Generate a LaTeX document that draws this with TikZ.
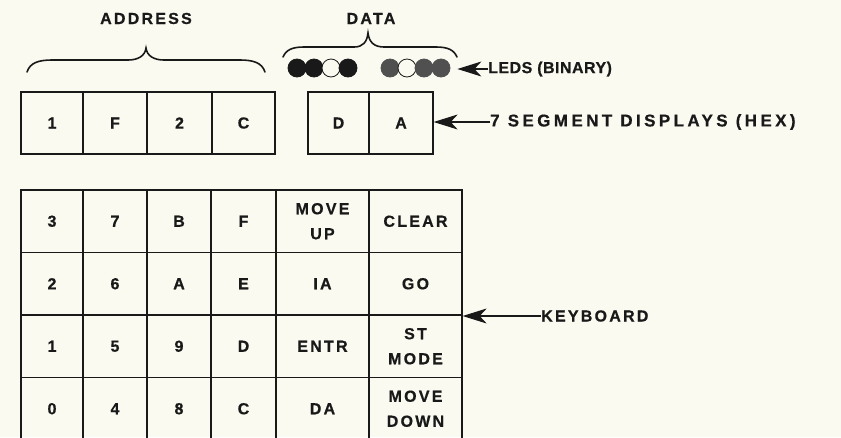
\documentclass[tikz,border=0pt]{standalone}
\usepackage{fontspec}
\setmainfont{Liberation Sans}[BoldFont={Liberation Sans Bold}, LetterSpace=14, BoldFeatures={FakeBold=0.6}]
\newfontfamily\ledsfont{Liberation Sans Bold}[LetterSpace=3, FakeBold=0.6]
\newfontfamily\segfont{Liberation Sans Bold}[LetterSpace=20, FakeBold=0.6]
\usetikzlibrary{arrows.meta}
\definecolor{paper}{RGB}{251,250,240}
\definecolor{ink}{RGB}{25,25,25}
\definecolor{ledgray}{RGB}{80,80,80}
\begin{document}
\begin{tikzpicture}[x=1pt,y=-1pt,
  lbl/.style={font=\bfseries\fontsize{16}{25}\selectfont, text=ink, inner sep=0pt},
  cell/.style={draw=ink, line width=1.3pt, lbl, align=center, inner sep=0pt},
  led/.style={circle, draw=ink, line width=0.8pt, minimum size=18pt, inner sep=0pt},
  ledon/.style={led, fill=ink},
  ledon2/.style={led, fill=ledgray, draw=ledgray},
  ledoff/.style={led, fill=paper},
  pointer/.style={draw=ink, line width=1.1pt, -{Stealth[length=24pt,width=15pt,inset=7pt]}},
  bracepath/.style={draw=ink, line width=1.6pt, line cap=round}]
\fill[paper] (0,0) rectangle (841,437);
\useasboundingbox (0,0) rectangle (841,437);
\clip (0,0) rectangle (841,437);

% titles
\node[lbl] (addr) at (146,18.5) {ADDRESS};
\node[lbl] (data) at (371,18.5) {DATA};

% braces
\draw[bracepath] (27,72) .. controls (30,63) and (38,60) .. (52,60) -- (128,60)
  .. controls (138,60) and (145,56) .. (146,48)
  .. controls (147,56) and (154,60) .. (164,60) -- (240,60)
  .. controls (254,60) and (262,63) .. (265,72);
\draw[bracepath] (283,57) .. controls (286,50) and (292,47) .. (304,47) -- (354,47)
  .. controls (363,47) and (367,42) .. (368,33)
  .. controls (369,42) and (374,47) .. (384,47) -- (436,47)
  .. controls (448,47) and (454,50) .. (457,57);

% LEDs
\node[ledon]  (l1) at (297,68) {};
\node[ledon]  (l2) at (314,68) {};
\node[ledoff] (l3) at (331,68) {};
\node[ledon]  (l4) at (348,68) {};
\node[ledon2] (l5) at (390,68) {};
\node[ledoff] (l6) at (407,68) {};
\node[ledon2] (l7) at (424,68) {};
\node[ledon2] (l8) at (441,68) {};

% address display
\node[cell, minimum width=62pt, minimum height=62pt] (a1) at (52,123) {1};
\node[cell, minimum width=64pt, minimum height=62pt] (a2) at (115,123) {F};
\node[cell, minimum width=65pt, minimum height=62pt] (a3) at (179.5,123) {2};
\node[cell, minimum width=63pt, minimum height=62pt] (a4) at (243.5,123) {C};
% data display
\node[cell, minimum width=61pt, minimum height=62pt] (d1) at (338.5,123) {D};
\node[cell, minimum width=64pt, minimum height=62pt] (d2) at (401,123) {A};

% keyboard
\node[cell, minimum width=62pt, minimum height=62.5pt] (k3) at (52,221.25) {3};
\node[cell, minimum width=64pt, minimum height=62.5pt] (k7) at (115,221.25) {7};
\node[cell, minimum width=64pt, minimum height=62.5pt] (kB) at (179,221.25) {B};
\node[cell, minimum width=65pt, minimum height=62.5pt] (kF) at (243.5,221.25) {F};
\node[cell, minimum width=93pt, minimum height=62.5pt] (kMU) at (322.5,221.25) {MOVE\\UP};
\node[cell, minimum width=93pt, minimum height=62.5pt] (kCL) at (415.5,221.25) {CLEAR};

\node[cell, minimum width=62pt, minimum height=62.5pt] (k2) at (52,283.75) {2};
\node[cell, minimum width=64pt, minimum height=62.5pt] (k6) at (115,283.75) {6};
\node[cell, minimum width=64pt, minimum height=62.5pt] (kA) at (179,283.75) {A};
\node[cell, minimum width=65pt, minimum height=62.5pt] (kE) at (243.5,283.75) {E};
\node[cell, minimum width=93pt, minimum height=62.5pt] (kIA) at (322.5,283.75) {IA};
\node[cell, minimum width=93pt, minimum height=62.5pt] (kGO) at (415.5,283.75) {GO};

\node[cell, minimum width=62pt, minimum height=62.5pt] (k1) at (52,346.25) {1};
\node[cell, minimum width=64pt, minimum height=62.5pt] (k5) at (115,346.25) {5};
\node[cell, minimum width=64pt, minimum height=62.5pt] (k9) at (179,346.25) {9};
\node[cell, minimum width=65pt, minimum height=62.5pt] (kD) at (243.5,346.25) {D};
\node[cell, minimum width=93pt, minimum height=62.5pt] (kEN) at (322.5,346.25) {ENTR};
\node[cell, minimum width=93pt, minimum height=62.5pt] (kST) at (415.5,346.25) {ST\\MODE};

\node[cell, minimum width=62pt, minimum height=62.5pt] (k0) at (52,408.75) {0};
\node[cell, minimum width=64pt, minimum height=62.5pt] (k4) at (115,408.75) {4};
\node[cell, minimum width=64pt, minimum height=62.5pt] (k8) at (179,408.75) {8};
\node[cell, minimum width=65pt, minimum height=62.5pt] (kC) at (243.5,408.75) {C};
\node[cell, minimum width=93pt, minimum height=62.5pt] (kDA) at (322.5,408.75) {DA};
\node[cell, minimum width=93pt, minimum height=62.5pt] (kMD) at (415.5,408.75) {MOVE\\DOWN};

% labels and pointers
\node[lbl, font=\ledsfont\fontsize{16}{25}\selectfont, anchor=west] (tled) at (488,69) {LEDS (BINARY)};
\node[lbl, font=\segfont\fontsize{17}{25}\selectfont, anchor=west] (tseg) at (490,122) {7 SEGMENT DISPLAYS (HEX)};
\node[lbl, anchor=west] (tkey) at (541,316) {KEYBOARD};
\coordinate (ledtip) at ([xshift=7pt]l8.east |- tled.west);
\coordinate (segtip) at (d2.east |- tseg.west);
\coordinate (keytip) at (kGO.south east |- tkey.west);
\draw[pointer] (tled.west) -- (ledtip);
\draw[pointer] (tseg.west) -- (segtip);
\draw[pointer] (tkey.west) -- (keytip);
\end{tikzpicture}
\end{document}
